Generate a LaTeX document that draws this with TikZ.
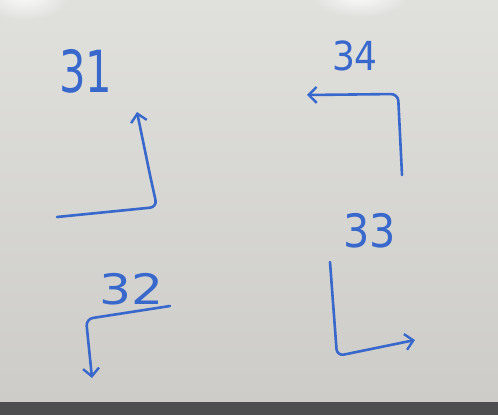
\documentclass[tikz,border=0pt]{standalone}
\usepackage{fontspec}
\setmainfont{DejaVu Sans}
\usetikzlibrary{arrows.meta}
\definecolor{ink}{HTML}{3868CC}
\definecolor{boardtop}{HTML}{E0E0DD}
\definecolor{boardbot}{HTML}{CDCCC8}
\definecolor{barcol}{HTML}{4E4E50}
\tikzset{
  pen/.style={draw=ink, line width=2.6pt, line cap=round, line join=round, rounded corners=7pt},
  tip/.style={-{Straight Barb[length=8pt,width=16pt,line width=2.4pt]}},
  digits/.style={text=ink, inner sep=0pt}
}
\begin{document}
\begin{tikzpicture}[x=1pt,y=-1pt]
\useasboundingbox (0,0) rectangle (498,415);
% whiteboard
\shade[top color=boardtop, bottom color=boardbot] (0,0) rectangle (498,402);
\shade[inner color=white, outer color=boardtop, opacity=0.9] (25,-5) ellipse (45 and 25);
\shade[inner color=white, outer color=boardtop, opacity=0.9] (360,-5) ellipse (50 and 22);
\fill[barcol] (0,402) rectangle (498,415);
% labels
\node[digits, font=\fontsize{58}{58}\selectfont, xscale=0.72] (l31) at (86,71) {31};
\node[digits, font=\fontsize{40}{40}\selectfont, xscale=0.9] (l34) at (355,56) {34};
\node[digits, font=\fontsize{46}{46}\selectfont, xscale=0.9] (l33) at (370,231) {33};
\node[digits, font=\fontsize{42}{42}\selectfont, xscale=1.2] (l32) at (132,289) {32};
% arrow 31
\coordinate (a31s) at (57,217);
\coordinate (a31c) at (157,207);
\coordinate (a31b) at (150,175);
\coordinate (a31e) at (137,112);
\draw[pen, tip] (a31s) -- (a31c) -- (a31b) -- (a31e);
% arrow 34
\coordinate (a34s) at (402,175);
\coordinate (a34c) at (398,94);
\coordinate (a34e) at (307,95);
\draw[pen, tip] (a34s) -- (a34c) -- (a34e);
% arrow 33
\coordinate (a33s) at (330,262);
\coordinate (a33c) at (337,356);
\coordinate (a33e) at (415,340);
\draw[pen, tip] (a33s) -- (a33c) -- (a33e);
% arrow 32
\coordinate (a32s) at (170,306);
\coordinate (a32c) at (86,319);
\coordinate (a32e) at (92,378);
\draw[pen, tip] (a32s) -- (a32c) -- (a32e);
\end{tikzpicture}
\end{document}
